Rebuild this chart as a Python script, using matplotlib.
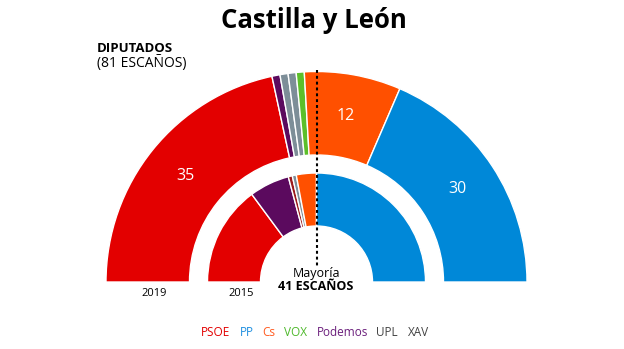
import matplotlib
matplotlib.use("Agg")
import matplotlib.pyplot as plt

plt.rcParams['font.family'] = ['Open Sans', 'DejaVu Sans']

# ---- data ----
parties_2019 = ["PSOE", "Podemos", "UPL", "XAV", "VOX", "Cs", "PP"]
seats_2019 = [35, 1, 1, 1, 1, 12, 30]
colors_2019 = ["#E30000", "#5B0A5E", "#7D8E98", "#7D8E98", "#5CBF2A", "#FF5000", "#0088D8"]

parties_2015 = ["PSOE", "Podemos", "IU", "UPL", "Cs", "PP"]
seats_2015 = [25, 10, 1, 1, 5, 42]
colors_2015 = ["#E30000", "#5B0A5E", "#9B1B1B", "#7D8E98", "#FF5000", "#0088D8"]

legend_names = ["PSOE", "PP", "Cs", "VOX", "Podemos", "UPL", "XAV"]
legend_colors = ["#E30000", "#1E8FE0", "#FF5A1F", "#4DB82A", "#6B1F7C", "#444444", "#444444"]
legend_x = [201, 240, 262, 284, 317, 376, 408]

title = "Castilla y León"
W, H = 624, 349
fig = plt.figure(figsize=(W / 100, H / 100), dpi=100)

# pie axes in pixel units, center at (316.5, 282 from top)
cx, cy = 316.5, 282
ax = fig.add_axes([0, 0, 1, 1])

R1_out, R1_in = 210.5, 127
R2_out, R2_in = 109, 56

def half_donut(values, colors, r_out, r_in, show_labels):
    total = sum(values)
    vals = list(values) + [total]
    cols = list(colors) + ["none"]
    labels = [str(v) if (show_labels and v >= 10) else "" for v in values] + [""]
    wedges, texts = ax.pie(vals, colors=cols, radius=r_out, startangle=180,
                           counterclock=False, labels=labels,
                           labeldistance=((r_out + r_in) / 2) / r_out,
                           center=(0, 0), frame=True,
                           wedgeprops=dict(width=r_out - r_in, edgecolor="white",
                                           linewidth=1.0),
                           textprops=dict(color="white", fontsize=11.5))
    wedges[-1].set_edgecolor("none")
    for t in texts:
        t.set_ha("center")
        t.set_va("center")

half_donut(seats_2019, colors_2019, R1_out, R1_in, True)
half_donut(seats_2015, colors_2015, R2_out, R2_in, False)

ax.set_xlim(-cx, W - cx)
ax.set_ylim(-(H - cy), cy)
ax.set_aspect("auto")
ax.axis("off")

# majority dotted line
ax.plot([0, 0], [cy - 70, cy - 266], color="black", lw=1.5,
        linestyle=(0, (1.4, 1.4)), solid_capstyle="butt", dash_capstyle="butt")

def T(x, y, s, **kw):
    ax.text(x - cx, cy - y, s, **kw)

T(313.5, 21, title, fontsize=18.5, fontweight="bold", ha="center", va="center", color="black")
T(97, 48, "DIPUTADOS", fontsize=9.5, fontweight="bold", ha="left", va="center", color="black")
T(97, 63, "(81 ESCAÑOS)", fontsize=10, ha="left", va="center", color="black")
T(154, 293, "2019", fontsize=8, ha="center", va="center", color="black")
T(241, 293, "2015", fontsize=8, ha="center", va="center", color="black")
T(316, 273, "Mayoría", fontsize=9, ha="center", va="center", color="black")
T(316, 286, "41 ESCAÑOS", fontsize=9, fontweight="bold", ha="center", va="center", color="black")

for name, col, x in zip(legend_names, legend_colors, legend_x):
    T(x, 333, name, fontsize=8.5, ha="left", va="center", color=col)

fig.savefig("out.png", dpi=100)
